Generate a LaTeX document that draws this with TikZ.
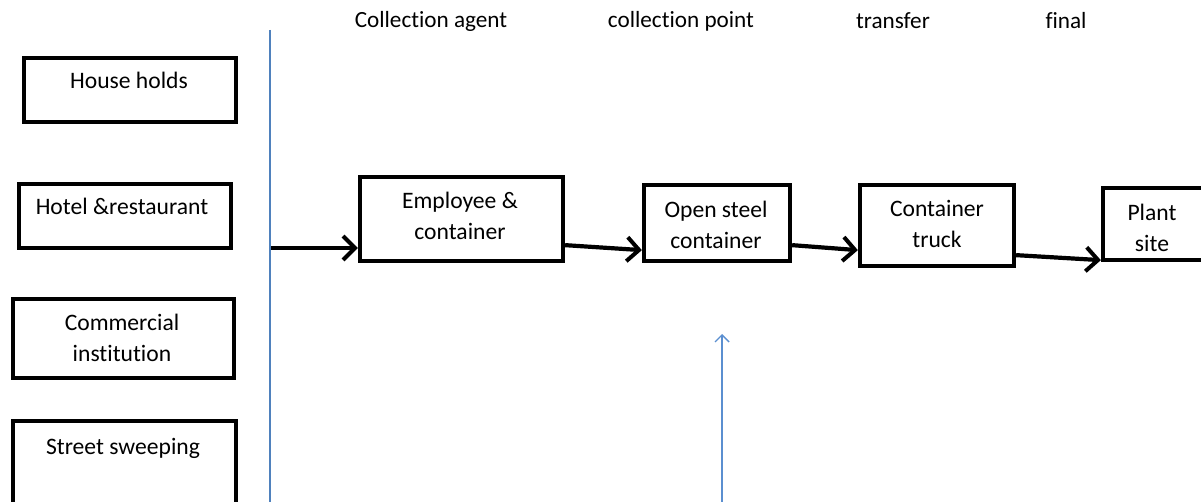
\documentclass[tikz,border=0pt]{standalone}
\usepackage{fontspec}
\setmainfont{Carlito}[Ligatures={NoCommon}]
\usetikzlibrary{arrows.meta}
\definecolor{rulblue}{HTML}{4F81BD}
\definecolor{arrblue}{HTML}{5B8FD0}
\begin{document}
\begin{tikzpicture}[x=1pt,y=-1pt,
  box/.style={draw=black, line width=4.3pt, fill=none, inner sep=0pt},
  txt/.style={inner sep=0pt, align=center, font=\fontsize{23.6}{31}\selectfont},
  head/.style={inner sep=0pt, font=\fontsize{23.2}{26}\selectfont},
  flow/.style={line width=4.2pt, -{Straight Barb[length=12pt,width=24pt,line width=4pt]}},
  feed/.style={draw=arrblue, line width=1.6pt, -{Straight Barb[length=7pt,width=14pt,line width=1.4pt]}}]
\useasboundingbox (0,0) rectangle (1201,502);

% column headings
\node[head] (hagent) at (431,21) {Collection agent};
\node[head] (hpoint) at (681,21) {collection point};
\node[head] (htrans) at (893,21) {transfer};
\node[head] (hfinal) at (1066,21) {final};

% waste sources
\node[box, minimum width=212pt, minimum height=64pt] (hh) at (130,90) {};
\node[txt] (hht) at (129,80) {House holds};
\node[box, minimum width=212pt, minimum height=64pt] (hr) at (125,216) {};
\node[txt] (hrt) at (122,206) {Hotel \&restaurant};
\node[box, minimum width=221pt, minimum height=79pt] (ci) at (123.5,338.5) {};
\node[txt] (cit) at (122,338) {Commercial\\institution};
\node[box, minimum width=223pt, minimum height=90pt] (ss) at (124.5,466) {};
\node[txt] (sst) at (123,448) {Street sweeping};

% dividing line and entry point
\coordinate (ltop) at (270,30);
\coordinate (lbot) at (270,502);
\draw[rulblue, line width=1.4pt] (ltop) -- (lbot);
\coordinate (entry) at (271,248);

% collection chain
\node[box, minimum width=203pt, minimum height=84pt] (emp) at (461.5,219) {};
\node[txt] (empt) at (460,216) {Employee \&\\container};
\node[box, minimum width=146pt, minimum height=76pt] (open) at (717,223) {};
\node[txt] (opent) at (716,224.5) {Open steel\\container};
\node[box, minimum width=154pt, minimum height=81pt] (truck) at (937,225.5) {};
\node[txt] (truckt) at (937,223.5) {Container\\truck};
\node[box, minimum width=116pt, minimum height=72pt] (plant) at (1161,224) {};
\node[txt] (plantt) at (1152,227.5) {Plant\\site};

\draw[flow] (entry) -- ([yshift=-29pt]emp.west);
\draw[flow] ([yshift=18pt]emp.south east) -- ([yshift=13pt]open.south west);
\draw[flow] ([yshift=18pt]open.south east) -- ([yshift=18pt]truck.south west);
\draw[flow] ([yshift=13pt]truck.south east) -- ([yshift=2pt]plant.south west);

% feed into the collection point
\coordinate (fsrc) at (722,502);
\coordinate (fdst) at (722,334);
\draw[feed] (fsrc) -- (fdst);
\end{tikzpicture}
\end{document}
